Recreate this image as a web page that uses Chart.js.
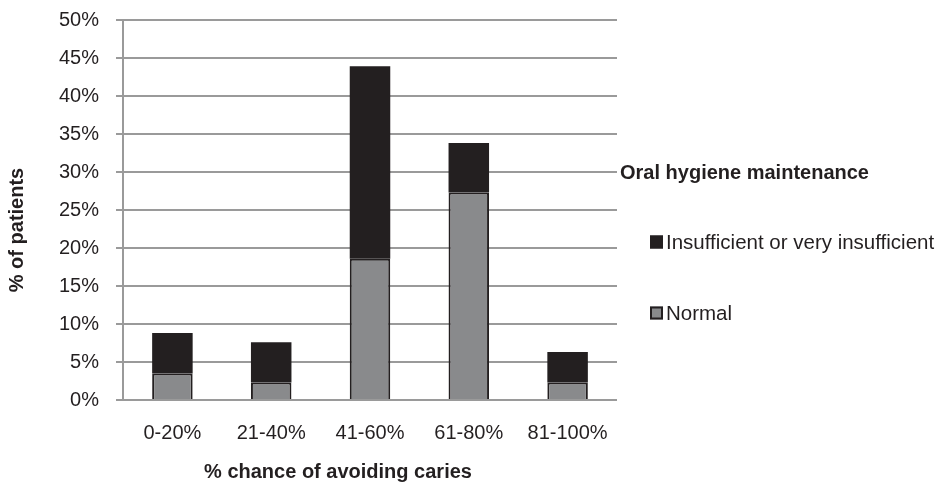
<!DOCTYPE html>
<html>
<head>
<meta charset="utf-8">
<script src="https://cdn.jsdelivr.net/npm/chart.js@4.4.1/dist/chart.umd.min.js"></script>
<style>
    html, body { margin: 0; padding: 0; background: #fff; }
    #wrap { width: 947px; height: 484px; }
</style>
</head>
<body>
<div id="wrap"><canvas id="chart" width="947" height="484"></canvas></div>
<script>
// data
const categories = ['0-20%', '21-40%', '41-60%', '61-80%', '81-100%'];
const normalValues = [3.5, 2.3, 18.6, 27.3, 2.3];
const insufficientValues = [5.3, 5.3, 25.3, 6.5, 4.0];
const yTicks = [0, 5, 10, 15, 20, 25, 30, 35, 40, 45, 50];

const legendTitle = 'Oral hygiene maintenance';
const xTitle = '% chance of avoiding caries';
const yTitle = '% of patients';
const textColor = '#231f20';
const gridColor = '#9a9a9a';
const fontFamily = '"Liberation Sans", Arial, sans-serif';

// axis titles + legend drawn by hand (the original puts them off-centre)
const sideText = {
    id: 'sideText',
    afterDraw(chart) {
        const ctx = chart.ctx;
        const area = chart.chartArea;
        ctx.save();
        ctx.fillStyle = textColor;
        ctx.textBaseline = 'middle';

        ctx.font = 'bold 20px ' + fontFamily;
        ctx.textAlign = 'center';
        ctx.fillText(xTitle, area.left + 215, chart.height - 12);

        ctx.save();
        ctx.translate(17, area.top + 210);
        ctx.rotate(-Math.PI / 2);
        ctx.fillText(yTitle, 0, 0);
        ctx.restore();

        const x0 = area.right + 3;
        ctx.textAlign = 'left';
        ctx.fillText(legendTitle, x0, 173);

        // top segment listed first
        const items = chart.data.datasets.slice().reverse();
        items.forEach((ds, i) => {
            const y = 242 + i * 71;
            const bx = x0 + 30;
            ctx.fillStyle = ds.backgroundColor;
            ctx.fillRect(bx, y - 6.5, 13, 13);
            ctx.strokeStyle = '#231f20';
            ctx.lineWidth = 2;
            ctx.strokeRect(bx + 1, y - 5.5, 11, 11);
            ctx.fillStyle = textColor;
            ctx.font = '20.5px ' + fontFamily;
            ctx.fillText(ds.label, bx + 16, y + 1);
        });
        ctx.restore();
    }
};

const ctx = document.getElementById('chart').getContext('2d');
const chart = new Chart(ctx, {
    type: 'bar',
    data: {
        labels: categories,
        datasets: [
            {
                label: 'Normal',
                data: normalValues,
                backgroundColor: '#898a8c',
                borderColor: '#231f20',
                borderWidth: 2,
                borderSkipped: 'bottom'
            },
            {
                label: 'Insufficient or very insufficient',
                data: insufficientValues,
                backgroundColor: '#231f20',
                borderWidth: 0
            }
        ]
    },
    options: {
        responsive: false,
        animation: false,
        layout: {
            padding: { top: 20, right: 330, bottom: 0, left: 0 }
        },
        datasets: {
            bar: { categoryPercentage: 1, barPercentage: 0.41 }
        },
        plugins: {
            legend: { display: false },
            tooltip: { enabled: false }
        },
        scales: {
            x: {
                stacked: true,
                grid: { display: false, drawTicks: false },
                border: { display: false },
                ticks: {
                    color: textColor,
                    padding: 21,
                    font: { family: fontFamily, size: 20 }
                },
                afterFit: (scale) => { scale.height = 84; }
            },
            y: {
                stacked: true,
                min: 0,
                max: 50,
                afterBuildTicks: (scale) => {
                    scale.ticks = yTicks.map(v => ({ value: v }));
                },
                grid: {
                    color: gridColor,
                    lineWidth: 2,
                    tickLength: 7,
                    drawTicks: true
                },
                border: { display: true, color: gridColor, width: 2 },
                ticks: {
                    color: textColor,
                    padding: 17,
                    font: { family: fontFamily, size: 20 },
                    callback: (v) => v + '%'
                },
                afterFit: (scale) => {
                    scale.width = 123;
                    // tick padding would otherwise push the plot top down
                    scale.paddingTop = 12;
                    scale.paddingBottom = 12;
                }
            }
        }
    },
    plugins: [sideText]
});
</script>
</body>
</html>
